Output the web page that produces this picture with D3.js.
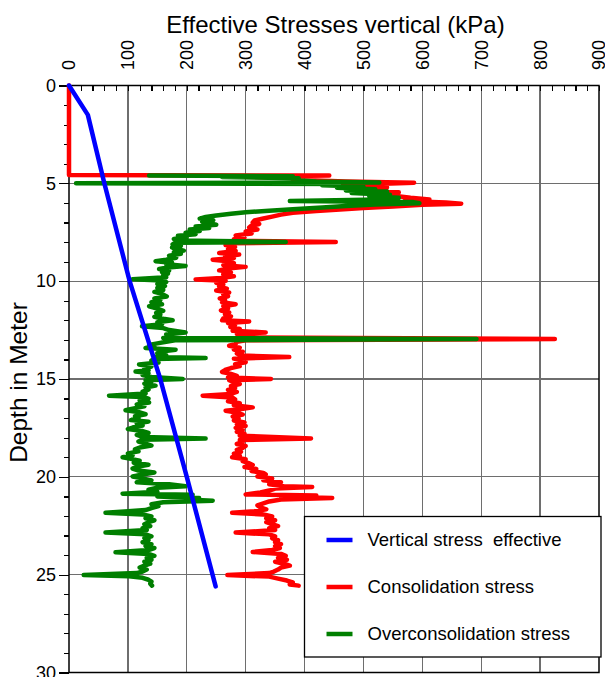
<!DOCTYPE html>
<html lang="en">
<head>
		<meta charset="utf-8">
		<title>Effective Stresses vertical</title>
		<script type="text/javascript" src="https://d3js.org/d3.v7.min.js"></script>
		<style type="text/css">
			body { margin: 0; background: #fff; }
			text { font-family: "Liberation Sans", Arial, Helvetica, sans-serif; fill: #000; white-space: pre; }
			.grid line { stroke: #6e6e6e; stroke-width: 1.3; shape-rendering: crispEdges; }
			.axis path { display: none; }
			.axis line { stroke: #000; stroke-width: 1.2; shape-rendering: crispEdges; }
			.profile { fill: none; stroke-linejoin: round; stroke-linecap: round; }
		</style>
</head>
<body>
	<div id="my_dataviz"></div>

	<script type="text/javascript">

		//// data (depth in m, stress in kPa)
		var xTicks = [0, 100, 200, 300, 400, 500, 600, 700, 800, 900];
		var yTicks = [0, 5, 10, 15, 20, 25, 30];
		var legendLabels = ["Vertical stress  effective", "Consolidation stress", "Overconsolidation stress"];
		var seriesColors = ["#0000ff", "#ff0000", "#007f00"];

		var verticalDepth  = [0, 1.5, 5, 10, 15, 20, 25.6];
		var verticalStress = [0, 32, 60, 103, 155, 200, 249];

		var consolDepth = [0, 4.58, 4.60, 4.66, 4.74, 4.82, 4.90, 4.97, 5.04, 5.12, 5.20, 5.30, 5.38, 5.46, 5.55, 5.65, 5.74, 5.82, 5.90, 5.98,
			6.04, 6.10, 6.18, 6.26, 6.34, 6.42, 6.50, 6.60, 6.70, 6.80, 6.90, 7.00, 7.08, 7.16, 7.26, 7.36, 7.46, 7.56, 7.66, 7.76,
			7.86, 7.94, 8.00, 8.06, 8.16, 8.26, 8.36, 8.46, 8.56, 8.64, 8.74, 8.82, 8.90, 8.98, 9.08, 9.18, 9.27, 9.35, 9.45, 9.55,
			9.65, 9.75, 9.84, 9.91, 9.98, 10.08, 10.18, 10.28, 10.38, 10.48, 10.58, 10.68, 10.78, 10.88, 10.98, 11.08, 11.18, 11.28, 11.40, 11.50,
			11.60, 11.70, 11.80, 11.90, 12.00, 12.06, 12.14, 12.24, 12.34, 12.44, 12.54, 12.62, 12.70, 12.80, 12.88, 12.96, 13.02, 13.10, 13.20, 13.30,
			13.40, 13.50, 13.60, 13.70, 13.80, 13.88, 13.96, 14.04, 14.14, 14.24, 14.34, 14.44, 14.54, 14.64, 14.74, 14.84, 14.92, 15.00, 15.06, 15.16,
			15.26, 15.36, 15.46, 15.56, 15.66, 15.76, 15.85, 15.94, 16.04, 16.14, 16.24, 16.34, 16.45, 16.55, 16.62, 16.72, 16.82, 16.92, 17.02, 17.12,
			17.22, 17.32, 17.40, 17.50, 17.60, 17.70, 17.80, 17.90, 18.04, 18.12, 18.22, 18.32, 18.42, 18.52, 18.62, 18.72, 18.82, 18.92, 19.00, 19.10,
			19.20, 19.30, 19.40, 19.50, 19.60, 19.70, 19.80, 19.88, 19.98, 20.08, 20.18, 20.28, 20.38, 20.48, 20.52, 20.60, 20.70, 20.80, 20.90, 20.95,
			21.02, 21.08, 21.16, 21.26, 21.36, 21.46, 21.56, 21.66, 21.76, 21.84, 21.92, 22.02, 22.12, 22.22, 22.32, 22.42, 22.52, 22.62, 22.72, 22.85,
			22.94, 23.04, 23.14, 23.24, 23.34, 23.44, 23.54, 23.64, 23.74, 23.84, 23.94, 24.04, 24.14, 24.24, 24.34, 24.44, 24.54, 24.64, 24.74, 24.84,
			24.92, 25.02, 25.10, 25.20, 25.30, 25.40, 25.50, 25.56];
		var consolStress = [0, 0, 442, 300, 400, 380, 470, 586, 520, 465, 540, 538, 500, 560, 520, 555, 580, 612, 570, 640,
			666, 600, 550, 500, 460, 420, 380, 360, 345, 330, 315, 312, 323, 310, 306, 320, 300, 310, 283, 298,
			280, 290, 453, 275, 266, 282, 270, 283, 255, 289, 265, 280, 244, 270, 280, 262, 300, 270, 255, 275,
			262, 280, 258, 215, 266, 250, 262, 255, 268, 250, 272, 262, 270, 256, 265, 260, 283, 262, 270, 258,
			272, 265, 275, 262, 260, 306, 270, 282, 274, 290, 278, 334, 285, 295, 288, 825, 300, 285, 283, 272,
			290, 280, 295, 285, 292, 374, 280, 292, 300, 282, 290, 275, 265, 260, 275, 285, 270, 343, 272, 280,
			290, 275, 282, 270, 285, 275, 227, 277, 282, 270, 290, 280, 312, 290, 266, 285, 295, 278, 288, 280,
			298, 285, 300, 283, 295, 285, 298, 290, 411, 290, 295, 285, 300, 295, 285, 292, 280, 290, 277, 300,
			295, 305, 312, 298, 318, 310, 330, 334, 320, 345, 330, 360, 340, 365, 413, 350, 340, 325, 300, 420,
			360, 447, 360, 340, 330, 320, 325, 335, 315, 277, 330, 345, 335, 350, 335, 345, 355, 340, 350, 283,
			340, 350, 345, 355, 350, 360, 350, 358, 345, 312, 360, 368, 355, 370, 350, 365, 375, 360, 355, 348,
			340, 269, 340, 355, 370, 380, 375, 390];

		var overDepth = [4.60, 4.64, 4.68, 4.74, 4.82, 4.90, 4.96, 5.00, 5.04, 5.10, 5.16, 5.22, 5.30, 5.36, 5.42, 5.50, 5.58, 5.66, 5.74, 5.82,
			5.90, 5.96, 6.02, 6.08, 6.16, 6.24, 6.32, 6.40, 6.48, 6.56, 6.64, 6.72, 6.80, 6.88, 6.96, 7.04, 7.12, 7.20, 7.28, 7.36,
			7.44, 7.52, 7.60, 7.68, 7.76, 7.84, 7.92, 8.00, 8.04, 8.12, 8.20, 8.28, 8.36, 8.44, 8.52, 8.60, 8.70, 8.80, 8.90, 8.98,
			9.06, 9.14, 9.22, 9.30, 9.38, 9.46, 9.54, 9.62, 9.70, 9.80, 9.90, 9.96, 10.05, 10.15, 10.25, 10.35, 10.45, 10.55, 10.65, 10.78,
			10.88, 10.98, 11.08, 11.18, 11.28, 11.40, 11.52, 11.62, 11.72, 11.82, 11.92, 12.00, 12.10, 12.20, 12.30, 12.40, 12.50, 12.62, 12.72, 12.82,
			12.90, 12.96, 13.02, 13.10, 13.18, 13.26, 13.34, 13.42, 13.50, 13.58, 13.68, 13.78, 13.88, 13.93, 13.98, 14.06, 14.16, 14.26, 14.36, 14.46,
			14.56, 14.62, 14.70, 14.80, 14.90, 15.00, 15.06, 15.14, 15.24, 15.34, 15.44, 15.54, 15.64, 15.74, 15.85, 15.92, 16.00, 16.10, 16.20, 16.30,
			16.40, 16.50, 16.60, 16.70, 16.80, 16.90, 17.00, 17.10, 17.18, 17.28, 17.38, 17.48, 17.56, 17.66, 17.76, 17.86, 17.96, 18.04, 18.10, 18.20,
			18.30, 18.40, 18.50, 18.60, 18.70, 18.80, 18.90, 19.00, 19.08, 19.18, 19.28, 19.38, 19.48, 19.58, 19.68, 19.78, 19.88, 19.98, 20.08, 20.18,
			20.28, 20.38, 20.48, 20.56, 20.66, 20.76, 20.86, 20.92, 21.00, 21.08, 21.16, 21.22, 21.30, 21.40, 21.50, 21.60, 21.70, 21.84, 21.92, 22.02,
			22.12, 22.22, 22.32, 22.42, 22.52, 22.62, 22.72, 22.85, 22.94, 23.04, 23.14, 23.24, 23.34, 23.44, 23.54, 23.64, 23.74, 23.86, 23.94, 24.04,
			24.14, 24.24, 24.34, 24.44, 24.54, 24.64, 24.74, 24.84, 24.92, 25.02, 25.08, 25.16, 25.26, 25.36, 25.46, 25.56];
		var overStress = [136, 380, 260, 390, 370, 420, 527, 12, 470, 430, 500, 455, 520, 470, 540, 480, 545, 510, 560, 530,
			375, 585, 595, 520, 470, 430, 380, 340, 300, 275, 250, 232, 222, 245, 226, 238, 250, 215, 238, 205,
			222, 198, 215, 185, 200, 178, 186, 368, 180, 176, 190, 175, 182, 195, 178, 190, 170, 182, 165, 147,
			175, 165, 198, 168, 153, 170, 158, 168, 160, 165, 108, 158, 165, 150, 163, 150, 160, 145, 158, 166,
			145, 155, 140, 158, 136, 150, 160, 148, 155, 145, 160, 176, 150, 158, 124, 160, 170, 198, 165, 175,
			160, 692, 180, 165, 150, 136, 145, 130, 181, 160, 150, 165, 145, 232, 145, 140, 152, 119, 140, 128,
			135, 113, 135, 125, 140, 193, 130, 140, 128, 147, 130, 135, 125, 130, 68, 125, 135, 120, 136, 115,
			128, 110, 96, 120, 130, 112, 118, 105, 135, 115, 125, 108, 100, 125, 135, 115, 125, 232, 125, 118,
			130, 140, 120, 112, 118, 100, 108, 91, 105, 120, 110, 135, 115, 108, 118, 145, 125, 108, 125, 140,
			115, 170, 198, 150, 135, 150, 91, 210, 150, 221, 200, 244, 160, 140, 152, 140, 130, 62, 125, 140,
			130, 145, 135, 128, 138, 125, 132, 62, 130, 140, 128, 135, 125, 140, 130, 145, 135, 79, 135, 145,
			132, 140, 128, 138, 128, 120, 132, 125, 115, 25, 102, 125, 135, 140, 138, 141];

		//// plot area in pixels
		var margin = {top: 85.5, right: 6, bottom: 4.5, left: 69},
			W = 605, H = 677,
			w = W - margin.left - margin.right,
			h = H - margin.top - margin.bottom;

		var svg = d3.select("#my_dataviz")
					.append("svg")
					.attr("width", W)
					.attr("height", H)
					.style("display", "block");

		var g = svg.append("g")
				.attr("transform", "translate(" + margin.left + "," + margin.top + ")");

		var xScale = d3.scaleLinear().domain([0, 900]).range([0, w]);
		var yScale = d3.scaleLinear().domain([0, 30]).range([0, h]);

		//// grid lines
		var grid = g.append("g").attr("class", "grid");
		grid.selectAll(".vg")
			.data(xTicks.slice(1, -1)).enter()
			.append("line")
			.attr("x1", function(d) { return xScale(d); })
			.attr("x2", function(d) { return xScale(d); })
			.attr("y1", 0).attr("y2", h);
		grid.selectAll(".hg")
			.data(yTicks.slice(1, -1)).enter()
			.append("line")
			.attr("x1", 0).attr("x2", w)
			.attr("y1", function(d) { return yScale(d); })
			.attr("y2", function(d) { return yScale(d); });

		//// frame (under the profiles, the red line sits on the left edge)
		g.append("rect")
			.attr("width", w).attr("height", h)
			.attr("fill", "none")
			.attr("stroke", "#000")
			.attr("stroke-width", 1.5);

		//// left axis: major + minor ticks
		g.append("g")
			.attr("class", "axis")
			.call(d3.axisLeft(yScale).tickValues(yTicks).tickSize(10).tickPadding(3))
			.selectAll("text")
			.style("font-size", "18px")
			.attr("fill", "#000");
		g.append("g")
			.attr("class", "axis")
			.call(d3.axisLeft(yScale).tickValues(d3.range(0, 31)).tickSize(5).tickFormat(""));

		//// top axis: minor ticks point down, labels rotated
		g.append("g")
			.attr("class", "axis")
			.call(d3.axisTop(xScale).tickValues(d3.range(0, 901, 20)).tickSize(-5).tickFormat(""));
		g.selectAll(".xlab")
			.data(xTicks).enter()
			.append("text")
			.attr("class", "xlab")
			.attr("transform", function(d) { return "translate(" + xScale(d) + "," + (-15.5) + ") rotate(-90)"; })
			.attr("dy", "0.36em")
			.style("font-size", "18px")
			.text(function(d) { return d; });

		//// profiles
		var line = d3.line()
					.x(function(d) { return xScale(d[1]); })
					.y(function(d) { return yScale(d[0]); });

		var series = [
			d3.zip(consolDepth, consolStress),
			d3.zip(overDepth, overStress),
			d3.zip(verticalDepth, verticalStress)
		];
		var drawColors = [seriesColors[1], seriesColors[2], seriesColors[0]];

		g.selectAll(".profile")
			.data(series).enter()
			.append("path")
			.attr("class", "profile")
			.attr("d", line)
			.attr("stroke", function(d, i) { return drawColors[i]; })
			.attr("stroke-width", 4.5);

		//// legend
		var legend = svg.append("g").attr("transform", "translate(304.5,516.5)");
		legend.append("rect")
			.attr("width", 296.5).attr("height", 140.5)
			.attr("fill", "#fff")
			.attr("stroke", "#000")
			.attr("stroke-width", 1.3);
		var item = legend.selectAll(".item")
			.data(legendLabels).enter()
			.append("g")
			.attr("transform", function(d, i) { return "translate(0," + (23.5 + i * 47) + ")"; });
		item.append("line")
			.attr("x1", 22).attr("x2", 48)
			.attr("stroke", function(d, i) { return seriesColors[i]; })
			.attr("stroke-width", 4.5);
		item.append("text")
			.attr("x", 63)
			.attr("dy", "0.35em")
			.attr("xml:space", "preserve")
			.style("font-size", "18.5px")
			.text(function(d) { return d; });

		//// titles
		svg.append("text")
			.attr("x", 335.5).attr("y", 32.5)
			.attr("text-anchor", "middle")
			.style("font-size", "24px")
			.text("Effective Stresses vertical (kPa)");

		svg.append("text")
			.attr("transform", "translate(26.5,382.5) rotate(-90)")
			.attr("text-anchor", "middle")
			.style("font-size", "24.5px")
			.text("Depth in Meter");

	</script>
</body>
</html>
